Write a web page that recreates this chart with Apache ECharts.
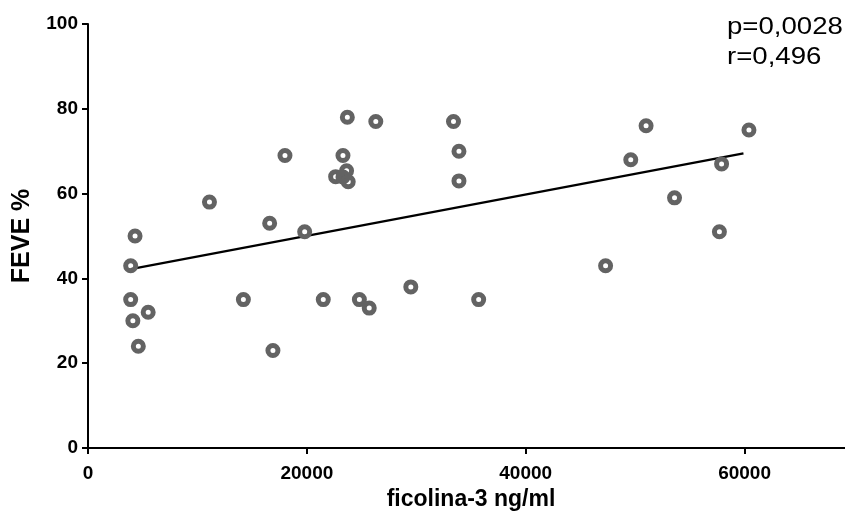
<!DOCTYPE html>
<html>
<head>
<meta charset="utf-8">
<script src="https://cdn.jsdelivr.net/npm/echarts@6/dist/echarts.min.js"></script>
<style>
  html, body { margin: 0; padding: 0; background: #fff; }
  #chart { width: 845px; height: 513px; }
</style>
</head>
<body>
<div id="chart"></div>
<script>
// Ficolin-3 concentration (ng/ml) against FEVE (%), one entry per patient
const ficolinX = [4300, 3900, 3900, 4100, 5500, 4600, 11100, 16600, 14200, 16900,
                  19800, 18000, 23700, 26300, 33400, 23300, 33900, 33900,
                  22630, 23630, 23780, 23300,
                  21500, 24800, 25700, 29500, 35700,
                  51000, 60400, 49600, 57900, 53600, 57700, 47300];
const feveY    = [50, 43, 35, 30, 32, 24, 58, 53, 35, 23,
                  51, 69, 78, 77, 77, 69, 70, 63,
                  64.0, 65.4, 62.8, 63.9,
                  35, 35, 33, 38, 35,
                  76, 75, 68, 67, 59, 51, 43];

// Linear regression line end points
const fitX = [3900, 59900];
const fitY = [42.2, 69.5];

// Axis ticks
const xTicks = [0, 20000, 40000, 60000];
const yTicks = [0, 20, 40, 60, 80, 100];
const xMax = 70000;

// Correlation statistics
const statLines = ['p=0,0028', 'r=0,496'];

const FONT = '"Liberation Sans", Arial, sans-serif';
const chart = echarts.init(document.getElementById('chart'));

const axisCommon = {
  axisLine: { show: true, onZero: false, lineStyle: { color: '#000', width: 2 } },
  axisTick: { show: true, inside: false, length: 6, lineStyle: { color: '#000', width: 2 } },
  splitLine: { show: false },
  nameTextStyle: { color: '#000', fontFamily: FONT, fontWeight: 'bold' },
  axisLabel: { color: '#000', fontFamily: FONT, fontWeight: 'bold', fontSize: 19 }
};

chart.setOption({
  animation: false,
  backgroundColor: '#fff',
  grid: { left: 88, right: -9, top: 24, bottom: 65, containLabel: false, outerBoundsMode: 'none' },
  xAxis: Object.assign({}, axisCommon, {
    type: 'value',
    min: xTicks[0],
    max: xMax,
    interval: xTicks[1] - xTicks[0],
    name: 'ficolina-3 ng/ml',
    nameLocation: 'middle',
    nameGap: 37,
    nameTextStyle: Object.assign({}, axisCommon.nameTextStyle, { fontSize: 23 }),
    axisLabel: Object.assign({}, axisCommon.axisLabel, {
      margin: 16,
      showMaxLabel: false,
      formatter: v => xTicks.includes(v) ? String(v) : ''
    })
  }),
  yAxis: Object.assign({}, axisCommon, {
    type: 'value',
    min: yTicks[0],
    max: yTicks[yTicks.length - 1],
    interval: yTicks[1] - yTicks[0],
    name: 'FEVE %',
    nameLocation: 'middle',
    nameRotate: 90,
    nameGap: 53,
    nameTextStyle: Object.assign({}, axisCommon.nameTextStyle, { fontSize: 25 }),
    axisLabel: Object.assign({}, axisCommon.axisLabel, { margin: 10 })
  }),
  series: [
    {
      type: 'line',
      data: fitX.map((x, i) => [x, fitY[i]]),
      symbol: 'none',
      lineStyle: { color: '#000', width: 2.2 },
      z: 2
    },
    {
      type: 'scatter',
      data: ficolinX.map((x, i) => [x, feveY[i]]),
      symbol: 'circle',
      symbolSize: 10,
      itemStyle: { color: 'rgba(255,255,255,0)', borderColor: '#636363', borderWidth: 5, opacity: 1 },
      z: 3
    }
  ],
  graphic: [
    {
      type: 'text',
      x: 727,
      y: 13,
      scaleX: 1.2,
      style: {
        text: statLines.join('\n'),
        font: '23px ' + FONT,
        fill: '#000',
        lineHeight: 30,
        align: 'left',
        verticalAlign: 'top'
      }
    }
  ]
});
</script>
</body>
</html>
